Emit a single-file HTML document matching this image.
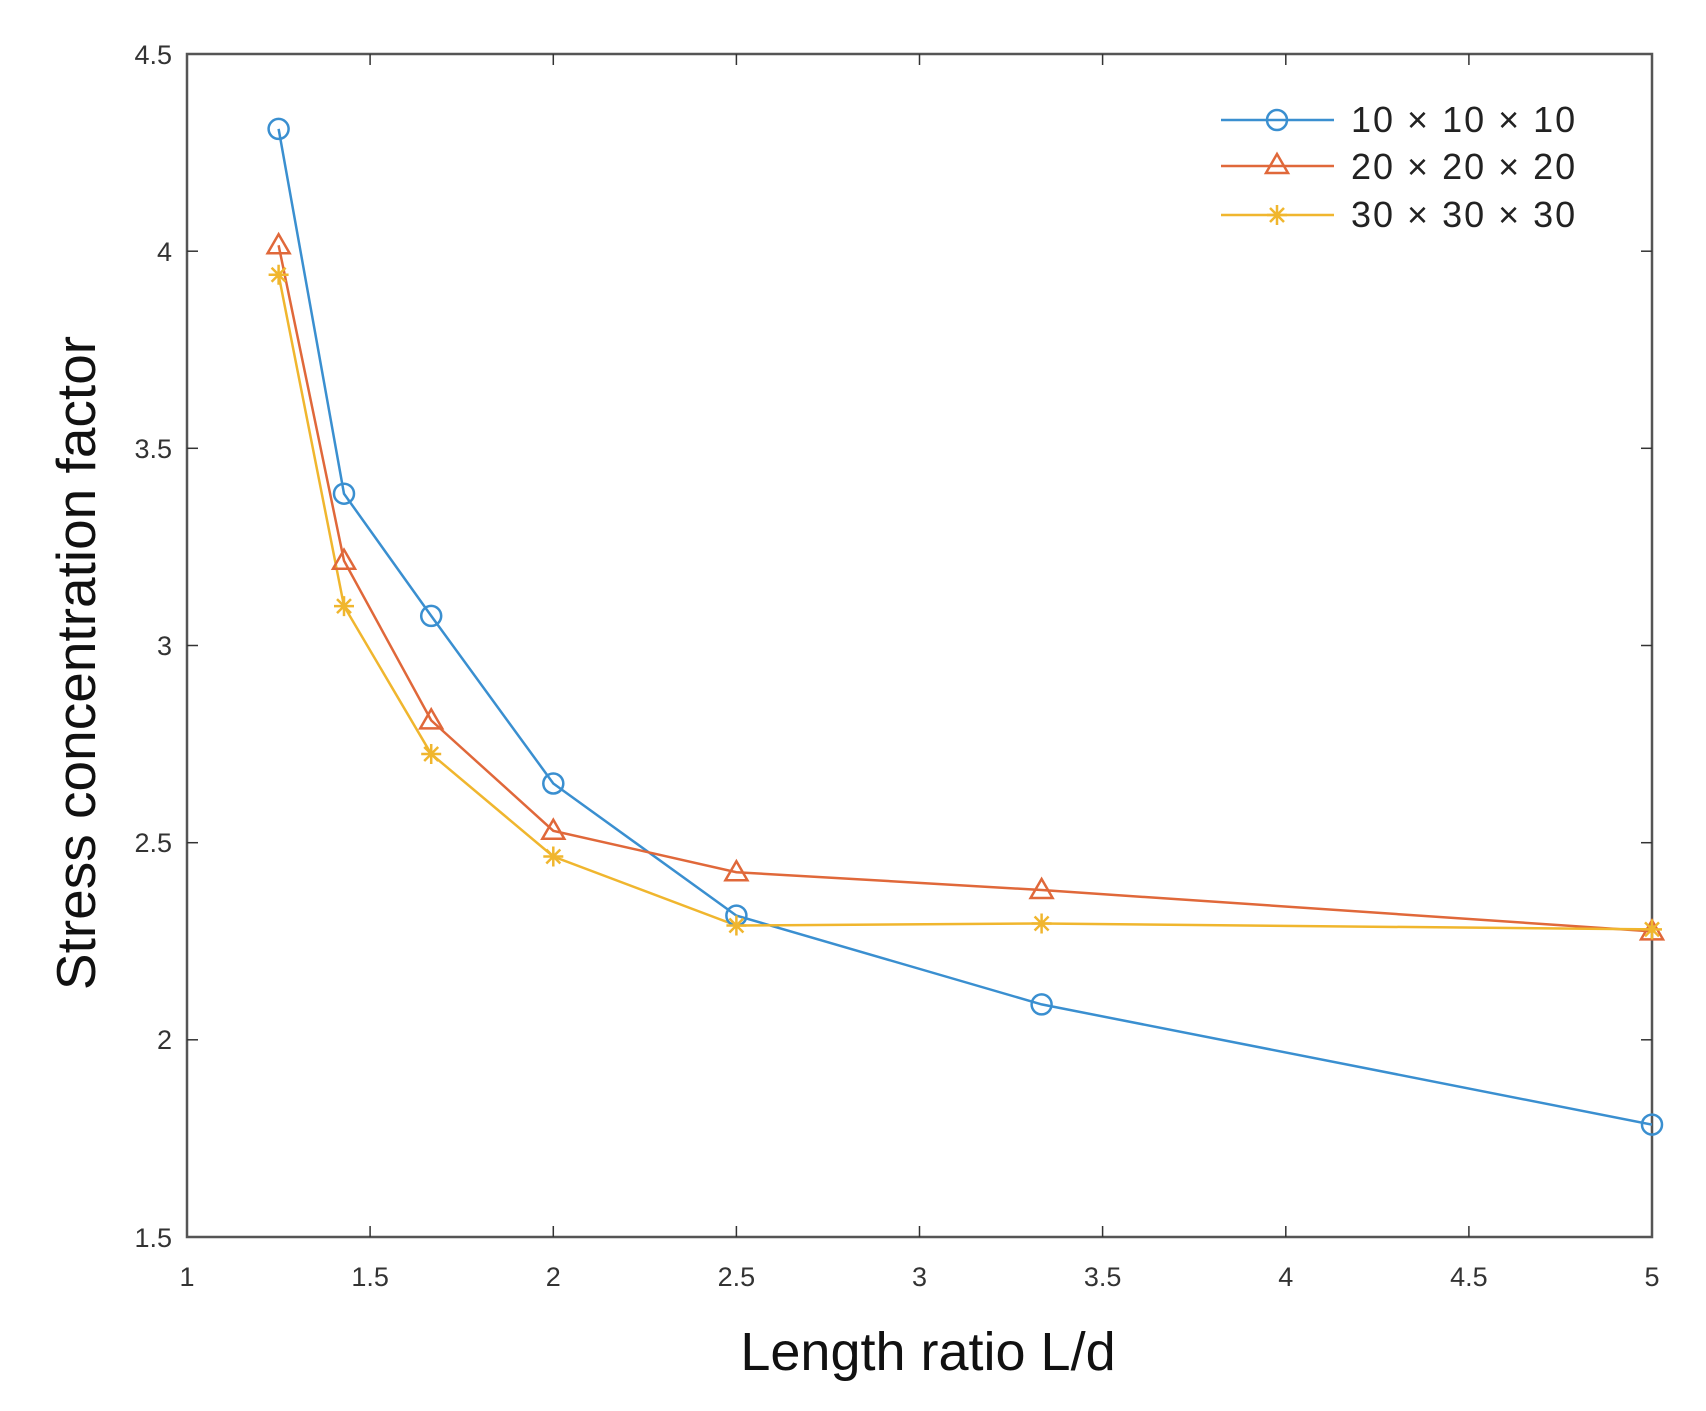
<!DOCTYPE html>
<html><head><meta charset="utf-8"><style>html,body{margin:0;padding:0;background:#fff}svg{display:block}</style></head>
<body>
<svg width="1706" height="1411" xmlns="http://www.w3.org/2000/svg" font-family="Liberation Sans, sans-serif">
<rect width="1706" height="1411" fill="#fff"/>
<rect x="187" y="54" width="1465" height="1183" fill="none" stroke="#555" stroke-width="2.5"/>
<g stroke="#333" stroke-width="1.5">
<line x1="370.1" y1="1237" x2="370.1" y2="1226"/><line x1="553.3" y1="1237" x2="553.3" y2="1226"/><line x1="736.4" y1="1237" x2="736.4" y2="1226"/><line x1="919.5" y1="1237" x2="919.5" y2="1226"/><line x1="1102.6" y1="1237" x2="1102.6" y2="1226"/><line x1="1285.8" y1="1237" x2="1285.8" y2="1226"/><line x1="1468.9" y1="1237" x2="1468.9" y2="1226"/>
<line x1="370.1" y1="54" x2="370.1" y2="65"/><line x1="553.3" y1="54" x2="553.3" y2="65"/><line x1="736.4" y1="54" x2="736.4" y2="65"/><line x1="919.5" y1="54" x2="919.5" y2="65"/><line x1="1102.6" y1="54" x2="1102.6" y2="65"/><line x1="1285.8" y1="54" x2="1285.8" y2="65"/><line x1="1468.9" y1="54" x2="1468.9" y2="65"/>
<line x1="187" y1="251.2" x2="198" y2="251.2"/><line x1="187" y1="448.3" x2="198" y2="448.3"/><line x1="187" y1="645.5" x2="198" y2="645.5"/><line x1="187" y1="842.7" x2="198" y2="842.7"/><line x1="187" y1="1039.8" x2="198" y2="1039.8"/>
<line x1="1652" y1="251.2" x2="1641" y2="251.2"/><line x1="1652" y1="448.3" x2="1641" y2="448.3"/><line x1="1652" y1="645.5" x2="1641" y2="645.5"/><line x1="1652" y1="842.7" x2="1641" y2="842.7"/><line x1="1652" y1="1039.8" x2="1641" y2="1039.8"/>
</g>
<g font-size="27" fill="#333" text-anchor="middle">
<text x="187" y="1286">1</text><text x="370.1" y="1286">1.5</text><text x="553.3" y="1286">2</text><text x="736.4" y="1286">2.5</text><text x="919.5" y="1286">3</text><text x="1102.6" y="1286">3.5</text><text x="1285.8" y="1286">4</text><text x="1468.9" y="1286">4.5</text><text x="1652" y="1286">5</text>
</g>
<g font-size="27" fill="#333" text-anchor="end">
<text x="172" y="64">4.5</text><text x="172" y="261">4</text><text x="172" y="458">3.5</text><text x="172" y="655">3</text><text x="172" y="852">2.5</text><text x="172" y="1049">2</text><text x="172" y="1247">1.5</text>
</g>
<text x="928" y="1370" font-size="54" text-anchor="middle" fill="#111">Length ratio L/d</text>
<text transform="translate(95,663) rotate(-90)" font-size="55" text-anchor="middle" fill="#111">Stress concentration factor</text>
<g fill="none" stroke-width="2.5">
<polyline stroke="#3A8FD0" points="278.6,128.9 344,493.7 431.2,615.9 553.3,783.5 736.4,915.6 1041.6,1004.4 1652,1124.6"/>
<polyline stroke="#E0683A" points="278.6,245.3 344,560.7 431.2,720.4 553.3,830.8 736.4,872.2 1041.6,890 1652,931.4"/>
<polyline stroke="#F0B62E" points="278.6,274.8 344,606.1 431.2,754 553.3,856.5 736.4,925.5 1041.6,923.5 1652,929.4"/>
</g>
<g fill="none" stroke="#3A8FD0" stroke-width="2.5">
<circle cx="278.6" cy="128.9" r="10"/><circle cx="344" cy="493.7" r="10"/><circle cx="431.2" cy="615.9" r="10"/><circle cx="553.3" cy="783.5" r="10"/><circle cx="736.4" cy="915.6" r="10"/><circle cx="1041.6" cy="1004.4" r="10"/><circle cx="1652" cy="1124.6" r="10"/>
</g>
<g fill="none" stroke="#E0683A" stroke-width="2.5">
<path d="M278.6,234.3 l-11,19 h22 z"/><path d="M344,549.7 l-11,19 h22 z"/><path d="M431.2,709.4 l-11,19 h22 z"/><path d="M553.3,819.8 l-11,19 h22 z"/><path d="M736.4,861.2 l-11,19 h22 z"/><path d="M1041.6,879 l-11,19 h22 z"/><path d="M1652,920.4 l-11,19 h22 z"/>
</g>
<defs><g id="st"><path d="M-10,0h20M0,-10v20M-7,-7l14,14M-7,7l14,-14" stroke="#F0B62E" stroke-width="2.5"/></g></defs>
<use href="#st" x="278.6" y="274.8"/><use href="#st" x="344" y="606.1"/><use href="#st" x="431.2" y="754"/><use href="#st" x="553.3" y="856.5"/><use href="#st" x="736.4" y="925.5"/><use href="#st" x="1041.6" y="923.5"/><use href="#st" x="1652" y="929.4"/>
<line x1="1221" y1="120" x2="1334" y2="120" stroke="#3A8FD0" stroke-width="2.5"/>
<circle cx="1277" cy="120" r="10" fill="none" stroke="#3A8FD0" stroke-width="2.5"/>
<line x1="1221" y1="166" x2="1334" y2="166" stroke="#E0683A" stroke-width="2.5"/>
<path d="M1277,154 l-11,19 h22 z" fill="none" stroke="#E0683A" stroke-width="2.5"/>
<line x1="1221" y1="215" x2="1334" y2="215" stroke="#F0B62E" stroke-width="2.5"/>
<use href="#st" x="1277" y="215"/>
<g font-size="36" fill="#222" letter-spacing="2">
<text x="1351" y="132">10 × 10 × 10</text>
<text x="1351" y="179">20 × 20 × 20</text>
<text x="1351" y="227">30 × 30 × 30</text>
</g>
</svg>
</body></html>
